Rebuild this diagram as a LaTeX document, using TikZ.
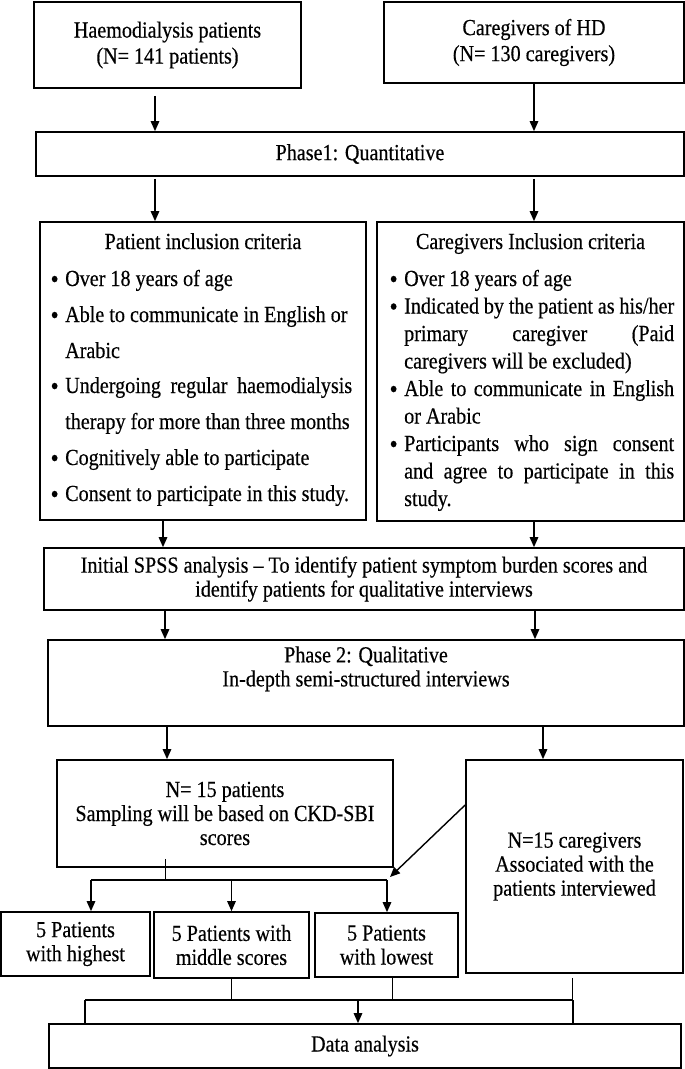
\documentclass[tikz,border=0pt]{standalone}
\usepackage{fontspec}
\usepackage{graphicx}
\setmainfont{Liberation Serif}[FakeStretch=0.875, FakeBold=0.4]
\usetikzlibrary{arrows.meta}
\newcommand{\bul}{\llap{\raisebox{-1.8pt}{\scalebox{1.15}{\textbullet}}\hspace{6.5pt}}}
\newcommand{\jst}[2]{\makebox[#1][s]{#2}}
\begin{document}
\begin{tikzpicture}[x=1pt,y=-1pt, font=\fontsize{23}{24}\selectfont,
  box/.style={draw, line width=1.7pt, inner sep=0pt, align=center},
  arr/.style={line width=1.4pt, -{Triangle[length=10pt,width=8.5pt]}},
  ln/.style={line width=1.4pt},
  thinln/.style={line width=0.9pt},
  txt/.style={anchor=base west, inner sep=0pt},
  ttl/.style={anchor=base, inner sep=0pt}]
\useasboundingbox (0,0) rectangle (685,1069);

% boxes
\node[box, minimum width=267pt, minimum height=86pt] (b1) at (167.5,45) {Haemodialysis patients\\[2pt](N= 141 patients)};
\node[box, minimum width=300pt, minimum height=81pt] (b2) at (534,42.5) {Caregivers of HD\\[2pt](N= 130 caregivers)};
\node[box, minimum width=648pt, minimum height=44pt] (ph1) at (360,154) {Phase1: Quantitative};
\node[box, minimum width=326pt, minimum height=298pt] (pc) at (203,371) {};
\node[box, minimum width=307pt, minimum height=299pt] (cc) at (530.5,371.5) {};
\node[box, minimum width=640pt, minimum height=62pt] (spss) at (364,579) {Initial SPSS analysis -- To identify patient symptom burden scores and\\identify patients for qualitative interviews};
\node[box, minimum width=636pt, minimum height=86pt] (ph2) at (366,683) {Phase 2: Qualitative\\In-depth semi-structured interviews\\[2pt]\strut};
\node[box, minimum width=336pt, minimum height=107pt] (np) at (225,813.5) {N= 15 patients\\Sampling will be based on CKD-SBI\\scores};
\node[box, minimum width=217pt, minimum height=213pt] (nc) at (574.5,866.5) {N=15 caregivers\\Associated with the\\patients interviewed};
\node[box, minimum width=149pt, minimum height=64pt] (sA) at (75.5,944) {5 Patients\\with highest};
\node[box, minimum width=155pt, minimum height=66pt] (sB) at (231.5,945) {5 Patients with\\middle scores};
\node[box, minimum width=143pt, minimum height=64pt] (sC) at (386.5,945) {5 Patients\\with lowest};
\node[box, minimum width=632pt, minimum height=44pt] (da) at (365,1046) {Data analysis};

% patient criteria text
\node[ttl] (pt) at (203,249) {Patient inclusion criteria};
\node[txt] (p1) at (65,286) {\bul Over 18 years of age};
\node[txt] (p2) at (65,322) {\bul Able to communicate in English or};
\node[txt] (p3) at (65,358) {Arabic};
\node[txt] (p4) at (65,393) {\bul\jst{287pt}{Undergoing regular haemodialysis}};
\node[txt] (p5) at (65,429) {therapy for more than three months};
\node[txt] (p6) at (65,465) {\bul Cognitively able to participate};
\node[txt] (p7) at (65,501) {\bul Consent to participate in this study.};

% caregiver criteria text
\node[ttl] (ct) at (530.5,249) {Caregivers Inclusion criteria};
\node[txt] (c1) at (404,286) {\bul Over 18 years of age};
\node[txt] (c2) at (404,313.5) {\bul\jst{270pt}{Indicated by the patient as his/her}};
\node[txt] (c3) at (404,341) {\jst{270pt}{primary caregiver (Paid}};
\node[txt] (c4) at (404,368.5) {caregivers will be excluded)};
\node[txt] (c5) at (404,396) {\bul\jst{270pt}{Able to communicate in English}};
\node[txt] (c6) at (404,423.5) {or Arabic};
\node[txt] (c7) at (404,451) {\bul\jst{270pt}{Participants who sign consent}};
\node[txt] (c8) at (404,478.5) {\jst{270pt}{and agree to participate in this}};
\node[txt] (c9) at (404,506) {study.};

% connectors
\coordinate (xa) at (155,0); \coordinate (xb) at (534,0);
\draw[arr, shorten <=7pt] (b1.south -| xa) -- (ph1.north -| xa);
\draw[arr] (b2.south -| xb) -- (ph1.north -| xb);
\draw[arr, shorten <=2pt] (ph1.south -| xa) -- (pc.north -| xa);
\draw[arr, shorten <=2pt] (ph1.south -| xb) -- (cc.north -| xb);
\coordinate (xc) at (163,0);
\draw[arr] (pc.south -| xc) -- (spss.north -| xc);
\draw[arr] (cc.south -| xb) -- (spss.north -| xb);
\coordinate (xd) at (165,0); \coordinate (xe) at (535,0);
\draw[arr] (spss.south -| xd) -- (ph2.north -| xd);
\draw[arr] (spss.south -| xe) -- (ph2.north -| xe);
\coordinate (xf) at (167,0); \coordinate (xg) at (543,0);
\draw[arr] (ph2.south -| xf) -- (np.north -| xf);
\draw[arr] (ph2.south -| xg) -- (nc.north -| xg);

% split to the three groups
\coordinate (s1) at (165,880); \coordinate (hl) at (91,880); \coordinate (hr) at (387,880);
\draw[thinln] (s1 |- np.south) ++(0,-9) -- (s1);
\draw[ln] (hl) -- (hr);
\draw[arr] (hl) -- (hl |- sA.north);
\draw[arr] (sB.north |- hl) -- (sB.north);
\draw[arr] (hr) -- (hr |- sC.north);
\coordinate (dg) at (390,877);
\draw[arr] ([yshift=61.5pt]nc.west) -- (dg);

% merge to data analysis
\coordinate (bl) at (85,1000); \coordinate (br) at (573,1000); \coordinate (bm) at (358,1000);
\coordinate (xh) at (392,1000); \coordinate (xi) at (572,1000);
\draw[thinln] (sB.south) -- (sB.south |- bl);
\draw[thinln] (xh |- sC.south) -- (xh);
\draw[thinln] (xi |- nc.south) ++(0,4) -- (xi);
\draw[ln] (bl) -- (br);
\draw[ln] (bl) -- (bl |- da.north);
\draw[ln] (br) -- (br |- da.north);
\draw[arr] (bm) -- (bm |- da.north);
\end{tikzpicture}
\end{document}
